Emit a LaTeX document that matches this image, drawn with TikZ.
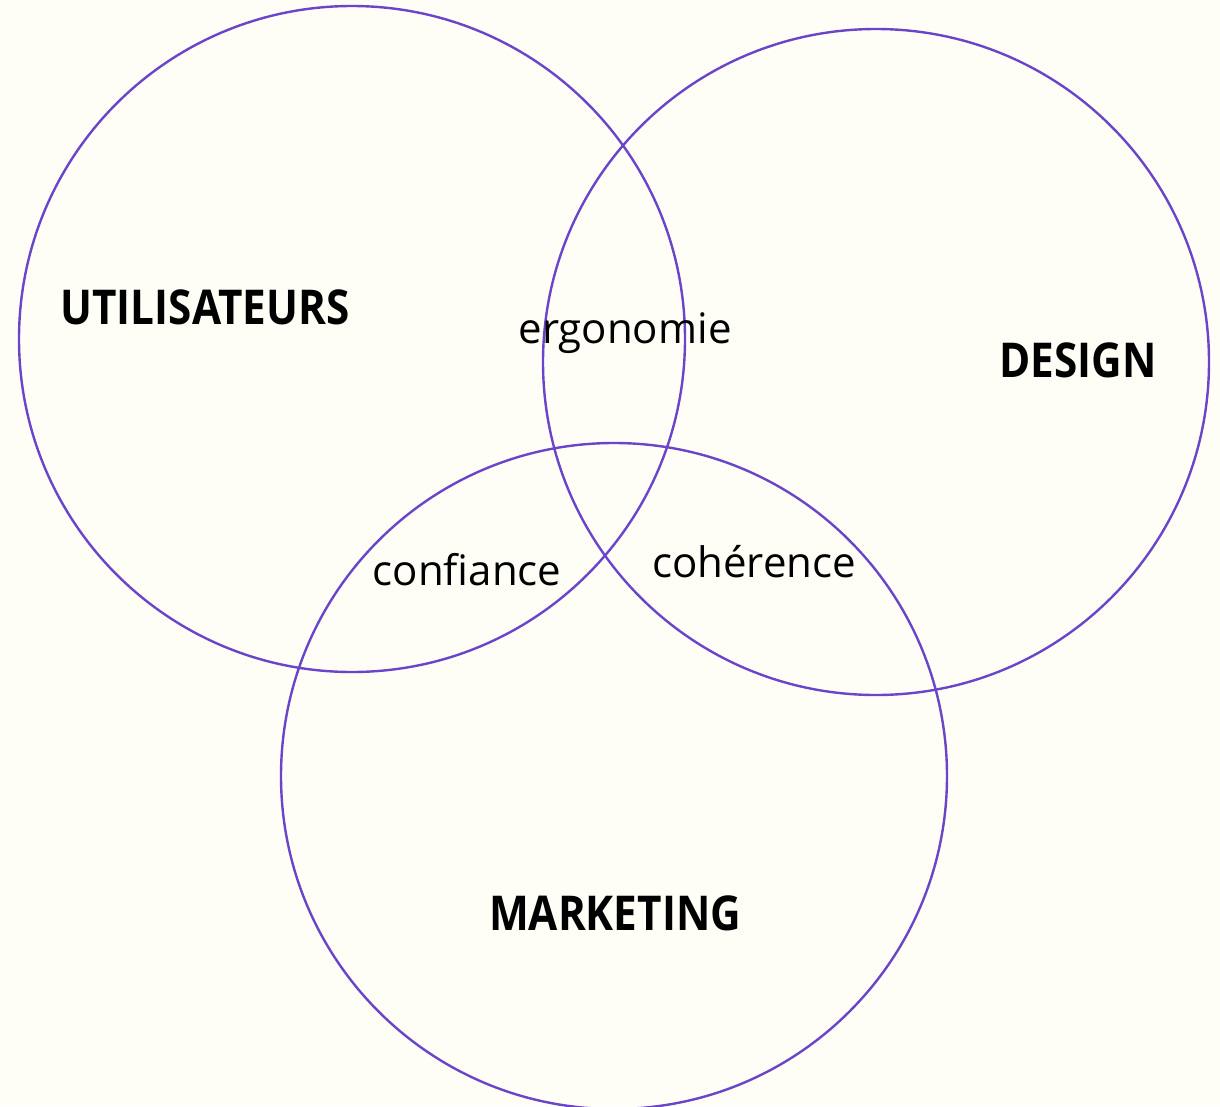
\documentclass[tikz,border=0pt]{standalone}
\usepackage{fontspec}
\setmainfont{Open Sans}
\newfontfamily\setfont[FakeStretch=0.88]{Open Sans}
\usepackage{xcolor}
\usetikzlibrary{positioning}
\definecolor{vennpurple}{HTML}{6B45C9}
\definecolor{paper}{HTML}{FEFEF6}

\begin{document}
\begin{tikzpicture}[x=1pt, y=-1pt,
  venncircle/.style={circle, draw=vennpurple, line width=2.4pt, minimum size=666pt, inner sep=0pt},
  setname/.style={anchor=base, font=\setfont\bfseries\fontsize{48}{52}\selectfont, text=black},
  overlap/.style={anchor=base, font=\fontsize{42}{46}\selectfont, text=black}
]
  \fill[paper] (0, 0) rectangle (1220, 1106);
  \useasboundingbox (0, 0) rectangle (1220, 1106);

  % the three sets
  \node[venncircle] (users) at (352, 339) {};
  \node[venncircle] (design) at (876, 362) {};
  \node[venncircle] (market) at (614, 776) {};

  \node[setname] (usersname) at (205, 324) {UTILISATEURS};
  \node[setname] (designname) at (1078, 377) {DESIGN};
  \node[setname] (marketname) at (615, 930) {MARKETING};

  % pairwise overlaps
  \node[overlap] (ergo) at (625, 343) {ergonomie};
  \node[overlap] (trust) at (467, 585) {confiance};
  \node[overlap] (coher) at (754, 577) {cohérence};
\end{tikzpicture}
\end{document}
